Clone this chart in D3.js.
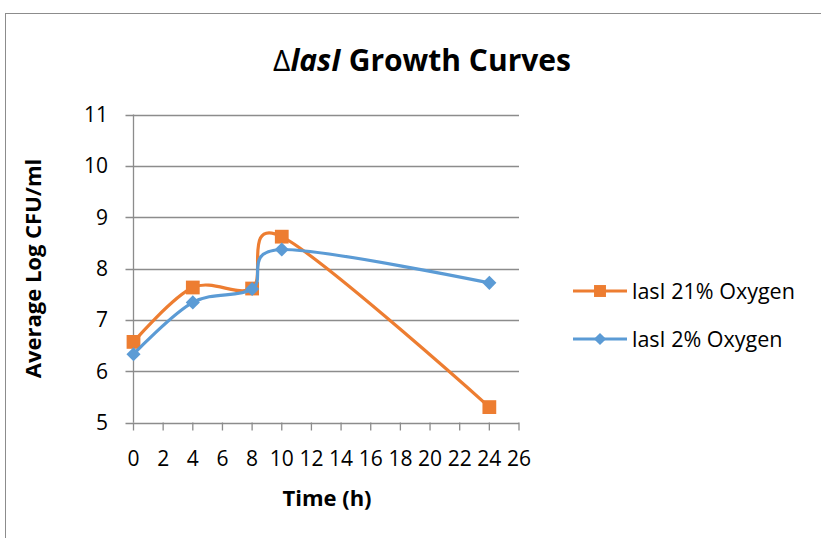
<!DOCTYPE html>
<html>
<head>
<meta charset="utf-8">
<script src="https://cdn.jsdelivr.net/npm/d3@7"></script>
<style>
  body { margin: 0; background: #fff; }
  svg text { font-family: 'Open Sans', sans-serif; fill: #000; }
</style>
</head>
<body>
<svg width="821" height="538"></svg>
<script>
var hours = [0, 4, 8, 10, 24];
var oxy21 = [6.57, 7.63, 7.61, 8.62, 5.30];
var oxy2 = [6.33, 7.34, 7.60, 8.37, 7.72];
var xTicks = [0, 2, 4, 6, 8, 10, 12, 14, 16, 18, 20, 22, 24, 26];
var yTicks = [5, 6, 7, 8, 9, 10, 11];
var seriesNames = ['lasI 21% Oxygen', 'lasI 2% Oxygen'];

var svg = d3.select('svg');

// chart frame (runs off the right and bottom edge)
svg.append('rect')
  .attr('x', 5.5).attr('y', 13.5)
  .attr('width', 900).attr('height', 600)
  .attr('fill', 'none').attr('stroke', '#8c8c8c');

var x = d3.scaleLinear().domain([0, 26]).range([133.5, 519]),
    y = d3.scaleLinear().domain([5, 11]).range([422.5, 114.5]);

// gridlines
svg.append('g').selectAll('line')
  .data(yTicks)
  .enter().append('line')
  .attr('x1', x(0) - 8).attr('x2', x(26))
  .attr('y1', function(d) { return Math.round(y(d)) + 0.5; })
  .attr('y2', function(d) { return Math.round(y(d)) + 0.5; })
  .attr('stroke', '#8c8c8c').attr('stroke-width', 1.3);

// y axis
svg.append('line')
  .attr('x1', x(0)).attr('x2', x(0))
  .attr('y1', y(11)).attr('y2', y(5))
  .attr('stroke', '#8c8c8c').attr('stroke-width', 1.3);

// x ticks
svg.append('g').selectAll('line')
  .data(xTicks)
  .enter().append('line')
  .attr('x1', function(d) { return x(d); })
  .attr('x2', function(d) { return x(d); })
  .attr('y1', y(5)).attr('y2', y(5) + 8)
  .attr('stroke', '#8c8c8c').attr('stroke-width', 1.3);

svg.append('g').selectAll('text')
  .data(xTicks)
  .enter().append('text')
  .attr('x', function(d) { return x(d); })
  .attr('y', 466)
  .attr('text-anchor', 'middle')
  .attr('font-size', 21)
  .text(function(d) { return d; });

svg.append('g').selectAll('text')
  .data(yTicks)
  .enter().append('text')
  .attr('x', 108)
  .attr('y', function(d) { return y(d) + 7.5; })
  .attr('text-anchor', 'end')
  .attr('font-size', 21)
  .text(function(d) { return d; });

// title
var title = svg.append('text')
  .attr('x', 422).attr('y', 71)
  .attr('text-anchor', 'middle')
  .attr('font-size', 30).attr('font-weight', 'bold');
title.append('tspan').attr('font-weight', 'normal').text('\u0394');
title.append('tspan').attr('font-style', 'italic').text('lasI');
title.append('tspan').text(' Growth Curves');

svg.append('text')
  .attr('x', 327).attr('y', 506)
  .attr('text-anchor', 'middle')
  .attr('font-size', 22).attr('font-weight', 'bold')
  .text('Time (h)');

svg.append('text')
  .attr('transform', 'translate(41,' + ((y(5) + y(11)) / 2) + ') rotate(-90)')
  .attr('text-anchor', 'middle')
  .attr('font-size', 22).attr('font-weight', 'bold')
  .text('Average Log CFU/ml');

var line = d3.line()
  .x(function(d) { return x(d[0]); })
  .y(function(d) { return y(d[1]); })
  .curve(d3.curveCatmullRom.alpha(0));

var series = [
  { name: seriesNames[0], color: '#ED7D31', symbol: d3.symbolSquare, size: 190, rot: 0,
    pts: d3.zip(hours, oxy21) },
  { name: seriesNames[1], color: '#5B9BD5', symbol: d3.symbolSquare, size: 100, rot: 45,
    pts: d3.zip(hours, oxy2) }
];

series.forEach(function(s) {
  svg.append('path')
    .attr('d', line(s.pts))
    .attr('fill', 'none')
    .attr('stroke', s.color)
    .attr('stroke-width', 3.2);
  svg.append('g').selectAll('path')
    .data(s.pts)
    .enter().append('path')
    .attr('transform', function(d) {
      return 'translate(' + x(d[0]) + ',' + y(d[1]) + ') rotate(' + s.rot + ')';
    })
    .attr('d', d3.symbol().type(s.symbol).size(s.size))
    .attr('fill', s.color);
});

// legend
var legend = svg.append('g').selectAll('g')
  .data(series)
  .enter().append('g')
  .attr('transform', function(d, i) { return 'translate(573,' + (291 + i * 48) + ')'; });

legend.append('line')
  .attr('x1', 0).attr('x2', 54)
  .attr('stroke', function(d) { return d.color; })
  .attr('stroke-width', 3.2);
legend.append('path')
  .attr('transform', function(d) { return 'translate(27,0) rotate(' + d.rot + ')'; })
  .attr('d', function(d) { return d3.symbol().type(d.symbol).size(d.size * 0.75)(); })
  .attr('fill', function(d) { return d.color; });
legend.append('text')
  .attr('x', 59).attr('y', 8)
  .attr('font-size', 21.5)
  .text(function(d) { return d.name; });
</script>
</body>
</html>
